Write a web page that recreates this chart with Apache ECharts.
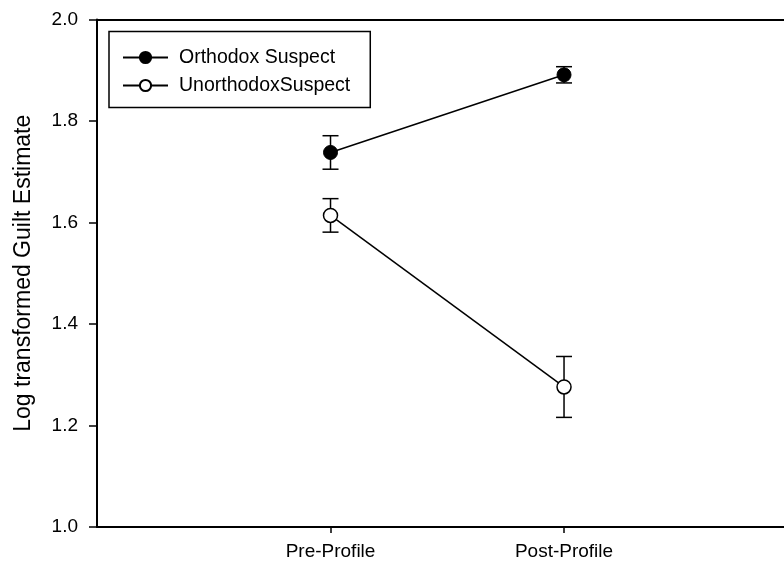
<!DOCTYPE html>
<html>
<head>
<meta charset="utf-8">
<script src="https://cdn.jsdelivr.net/npm/echarts@6/dist/echarts.min.js"></script>
<style>html,body{margin:0;padding:0;background:#fff}#c{width:784px;height:563px}</style>
</head>
<body>
<div id="c"></div>
<script>
const categories = ['Pre-Profile', 'Post-Profile'];
const xPositions = [1, 2];
const orthodoxMean = [1.738, 1.891];
const orthodoxErr = [0.033, 0.016];
const unorthodoxMean = [1.614, 1.276];
const unorthodoxErr = [0.033, 0.060];
const yTicks = [1.0, 1.2, 1.4, 1.6, 1.8, 2.0];
const seriesNames = ['Orthodox Suspect', 'UnorthodoxSuspect'];

const chart = echarts.init(document.getElementById('c'));
const font = 'Arial, "Liberation Sans", sans-serif';

function errData(mean, err) {
  return xPositions.map((x, i) => [x, mean[i] - err[i], mean[i] + err[i]]);
}
function errRender(params, api) {
  const x = api.value(0);
  const lo = api.coord([x, api.value(1)]);
  const hi = api.coord([x, api.value(2)]);
  const w = 8;
  const st = { stroke: '#000', lineWidth: 1.5 };
  return {
    type: 'group',
    children: [
      { type: 'line', shape: { x1: lo[0], y1: lo[1], x2: hi[0], y2: hi[1] }, style: st },
      { type: 'line', shape: { x1: lo[0] - w, y1: lo[1], x2: lo[0] + w, y2: lo[1] }, style: st },
      { type: 'line', shape: { x1: hi[0] - w, y1: hi[1], x2: hi[0] + w, y2: hi[1] }, style: st }
    ]
  };
}

chart.setOption({
  animation: false,
  backgroundColor: '#fff',
  grid: { left: 97, right: 0, top: 19.5, bottom: 36 },
  legend: {
    left: 109, top: 31.5,
    orient: 'vertical',
    data: seriesNames,
    itemWidth: 45, itemHeight: 14, itemGap: 8,
    padding: [16, 20, 12, 13],
    borderColor: '#000', borderWidth: 1.5,
    textStyle: { fontFamily: font, fontSize: 19.5, color: '#000', padding: [0, 0, 0, 6] }
  },
  xAxis: [{
    type: 'value', min: 0, max: 2.942,
    axisLine: { lineStyle: { color: '#000', width: 2 } },
    axisTick: { customValues: xPositions, length: 6, lineStyle: { color: '#000', width: 1.5 } },
    axisLabel: { customValues: xPositions, formatter: v => categories[xPositions.indexOf(v)] || '',
      fontFamily: font, fontSize: 19, color: '#000', margin: 15 },
    splitLine: { show: false }
  }, {
    type: 'value', position: 'top', min: 0, max: 2.942,
    axisLine: { lineStyle: { color: '#000', width: 2 } },
    axisTick: { show: false }, axisLabel: { show: false }, splitLine: { show: false }
  }],
  yAxis: {
    type: 'value', min: 1.0, max: 2.0, interval: 0.2,
    name: 'Log transformed Guilt Estimate', nameLocation: 'middle', nameGap: 62,
    nameTextStyle: { fontFamily: font, fontSize: 23, color: '#000' },
    axisLine: { lineStyle: { color: '#000', width: 2 } },
    axisTick: { length: 8, inside: false, lineStyle: { color: '#000', width: 1.5 } },
    axisLabel: { formatter: v => v.toFixed(1), fontFamily: font, fontSize: 19, color: '#000', margin: 19 },
    splitLine: { show: false }
  },
  series: [
    { type: 'custom', renderItem: errRender, data: errData(orthodoxMean, orthodoxErr), z: 1, silent: true },
    { type: 'custom', renderItem: errRender, data: errData(unorthodoxMean, unorthodoxErr), z: 1, silent: true },
    {
      name: seriesNames[0], type: 'line', z: 3,
      data: xPositions.map((x, i) => [x, orthodoxMean[i]]),
      symbol: 'circle', symbolSize: 14,
      lineStyle: { color: '#000', width: 1.5 },
      itemStyle: { color: '#000', borderColor: '#000', borderWidth: 1 }
    },
    {
      name: seriesNames[1], type: 'line', z: 3,
      data: xPositions.map((x, i) => [x, unorthodoxMean[i]]),
      symbol: 'circle', symbolSize: 14,
      lineStyle: { color: '#000', width: 1.5 },
      itemStyle: { color: '#fff', borderColor: '#000', borderWidth: 1.5 }
    }
  ]
});
</script>
</body>
</html>
